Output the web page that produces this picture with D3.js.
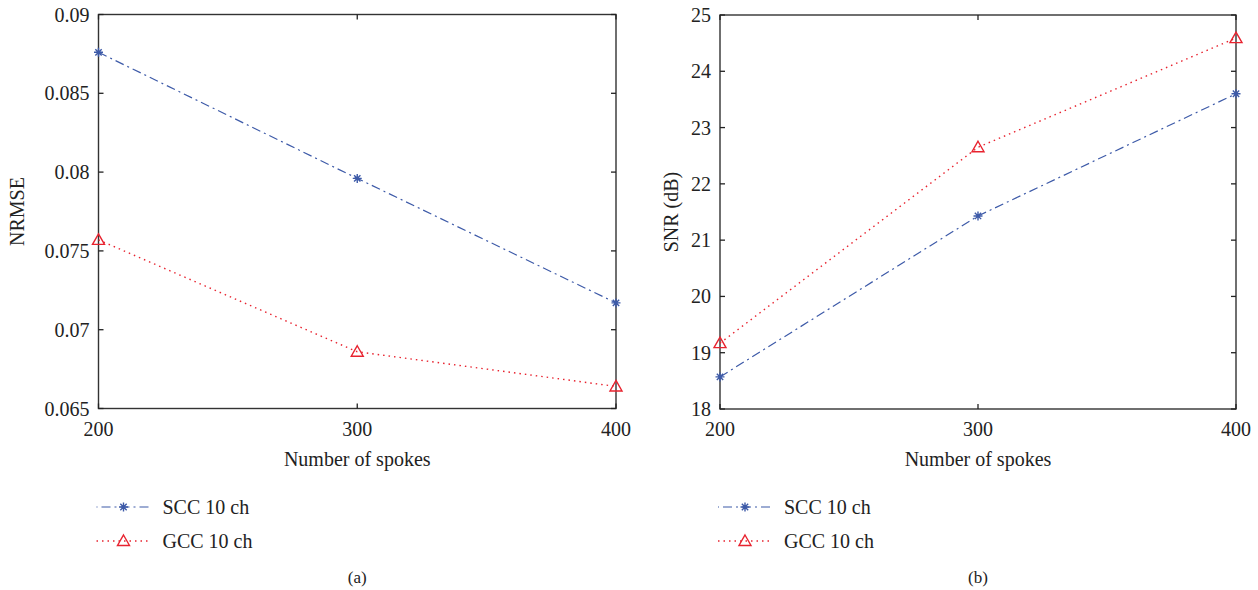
<!DOCTYPE html>
<html>
<head>
<meta charset="utf-8">
<script src="https://cdn.jsdelivr.net/npm/d3@7"></script>
<style>
  body { margin: 0; background: #fff; }
  svg text { font-family: "Liberation Serif", "DejaVu Serif", serif; fill: #222; }
</style>
</head>
<body>
<svg id="chart" width="1258" height="590"></svg>
<script>
// data
const spokes = [200, 300, 400];
const nrmseScc = [0.0876, 0.0796, 0.0717];
const nrmseGcc = [0.0757, 0.0686, 0.0664];
const snrScc = [18.57, 21.43, 23.6];
const snrGcc = [19.17, 22.65, 24.59];
const nrmseTicks = [0.065, 0.07, 0.075, 0.08, 0.085, 0.09];
const snrTicks = [18, 19, 20, 21, 22, 23, 24, 25];
const seriesNames = ["SCC 10 ch", "GCC 10 ch"];

const blue = "#3d5aa8";
const red = "#e8232f";

const svg = d3.select("#chart");

function drawPanel(opt) {
  const g = svg.append("g");
  const x = d3.scaleLinear().domain([200, 400]).range([opt.left, opt.right]);
  const y = d3.scaleLinear().domain(opt.yDomain).range([opt.bottom, opt.top]);

  // frame
  g.append("rect")
    .attr("x", opt.left).attr("y", opt.top)
    .attr("width", opt.right - opt.left).attr("height", opt.bottom - opt.top)
    .attr("fill", "none").attr("stroke", "#333").attr("stroke-width", 1.4);

  // inward ticks on all sides
  const tk = 5;
  opt.yTicks.forEach(v => {
    g.append("line").attr("x1", opt.left).attr("x2", opt.left + tk)
      .attr("y1", y(v)).attr("y2", y(v)).attr("stroke", "#222").attr("stroke-width", 1.3);
    g.append("line").attr("x1", opt.right).attr("x2", opt.right - tk)
      .attr("y1", y(v)).attr("y2", y(v)).attr("stroke", "#222").attr("stroke-width", 1.3);
    g.append("text").attr("x", opt.left - 9).attr("y", y(v) + 7)
      .attr("text-anchor", "end").attr("font-size", 20).text(opt.fmt(v));
  });
  spokes.forEach(v => {
    g.append("line").attr("x1", x(v)).attr("x2", x(v))
      .attr("y1", opt.bottom).attr("y2", opt.bottom - tk).attr("stroke", "#222").attr("stroke-width", 1.3);
    g.append("line").attr("x1", x(v)).attr("x2", x(v))
      .attr("y1", opt.top).attr("y2", opt.top + tk).attr("stroke", "#222").attr("stroke-width", 1.3);
    g.append("text").attr("x", x(v)).attr("y", opt.bottom + 27)
      .attr("text-anchor", "middle").attr("font-size", 20).text(v);
  });

  // axis labels
  const cx = (opt.left + opt.right) / 2;
  g.append("text").attr("x", cx).attr("y", opt.bottom + 57)
    .attr("text-anchor", "middle").attr("font-size", 20).text("Number of spokes");
  g.append("text")
    .attr("transform", `translate(${opt.yLabelX},${(opt.top + opt.bottom) / 2}) rotate(-90)`)
    .attr("text-anchor", "middle").attr("font-size", 20).text(opt.yLabel);
  g.append("text").attr("x", cx).attr("y", 583)
    .attr("text-anchor", "middle").attr("font-size", 17).text(opt.tag);

  const line = d3.line().x((d, i) => x(spokes[i])).y(d => y(d));

  // lines
  g.append("path").datum(opt.scc).attr("d", line)
    .attr("fill", "none").attr("stroke", blue).attr("stroke-width", 1.2)
    .attr("stroke-dasharray", "9,4,2,4");
  g.append("path").datum(opt.gcc).attr("d", line)
    .attr("fill", "none").attr("stroke", red).attr("stroke-width", 1.4)
    .attr("stroke-dasharray", "1.5,4");

  // markers
  opt.scc.forEach((d, i) => star(g, x(spokes[i]), y(d)));
  opt.gcc.forEach((d, i) => tri(g, x(spokes[i]), y(d)));

  // legend
  const lx = opt.left - 2;
  const ly = [507, 541];
  g.append("line").attr("x1", lx).attr("x2", lx + 55).attr("y1", ly[0]).attr("y2", ly[0])
    .attr("stroke", blue).attr("stroke-width", 1.2).attr("stroke-dasharray", "9,4,2,4")
    .attr("stroke-dashoffset", 14);
  star(g, lx + 27, ly[0]);
  g.append("line").attr("x1", lx).attr("x2", lx + 55).attr("y1", ly[1]).attr("y2", ly[1])
    .attr("stroke", red).attr("stroke-width", 1.4).attr("stroke-dasharray", "1.5,4");
  tri(g, lx + 27, ly[1]);
  seriesNames.forEach((n, i) => {
    g.append("text").attr("x", lx + 66).attr("y", ly[i] + 7)
      .attr("font-size", 20).text(n);
  });
}

function star(g, cx, cy) {
  const r = 4.5;
  const p = [];
  for (let k = 0; k < 4; k++) {
    const a = k * Math.PI / 4;
    p.push(`M${cx + r * Math.cos(a)},${cy + r * Math.sin(a)}L${cx - r * Math.cos(a)},${cy - r * Math.sin(a)}`);
  }
  g.append("path").attr("d", p.join("")).attr("stroke", blue).attr("stroke-width", 1.4).attr("fill", "none");
}

function tri(g, cx, cy) {
  const r = 6;
  g.append("path")
    .attr("d", `M${cx},${cy - r}L${cx + r},${cy + r * 0.75}L${cx - r},${cy + r * 0.75}Z`)
    .attr("stroke", red).attr("stroke-width", 1.4).attr("fill", "none");
}

drawPanel({
  left: 98.5, right: 616, top: 14.5, bottom: 408.5,
  yDomain: [0.065, 0.09], yTicks: nrmseTicks,
  fmt: v => String(+v.toFixed(3)),
  yLabel: "NRMSE", yLabelX: 24, tag: "(a)",
  scc: nrmseScc, gcc: nrmseGcc
});
drawPanel({
  left: 720, right: 1236, top: 15, bottom: 409,
  yDomain: [18, 25], yTicks: snrTicks,
  fmt: v => String(v),
  yLabel: "SNR (dB)", yLabelX: 678, tag: "(b)",
  scc: snrScc, gcc: snrGcc
});
</script>
</body>
</html>
